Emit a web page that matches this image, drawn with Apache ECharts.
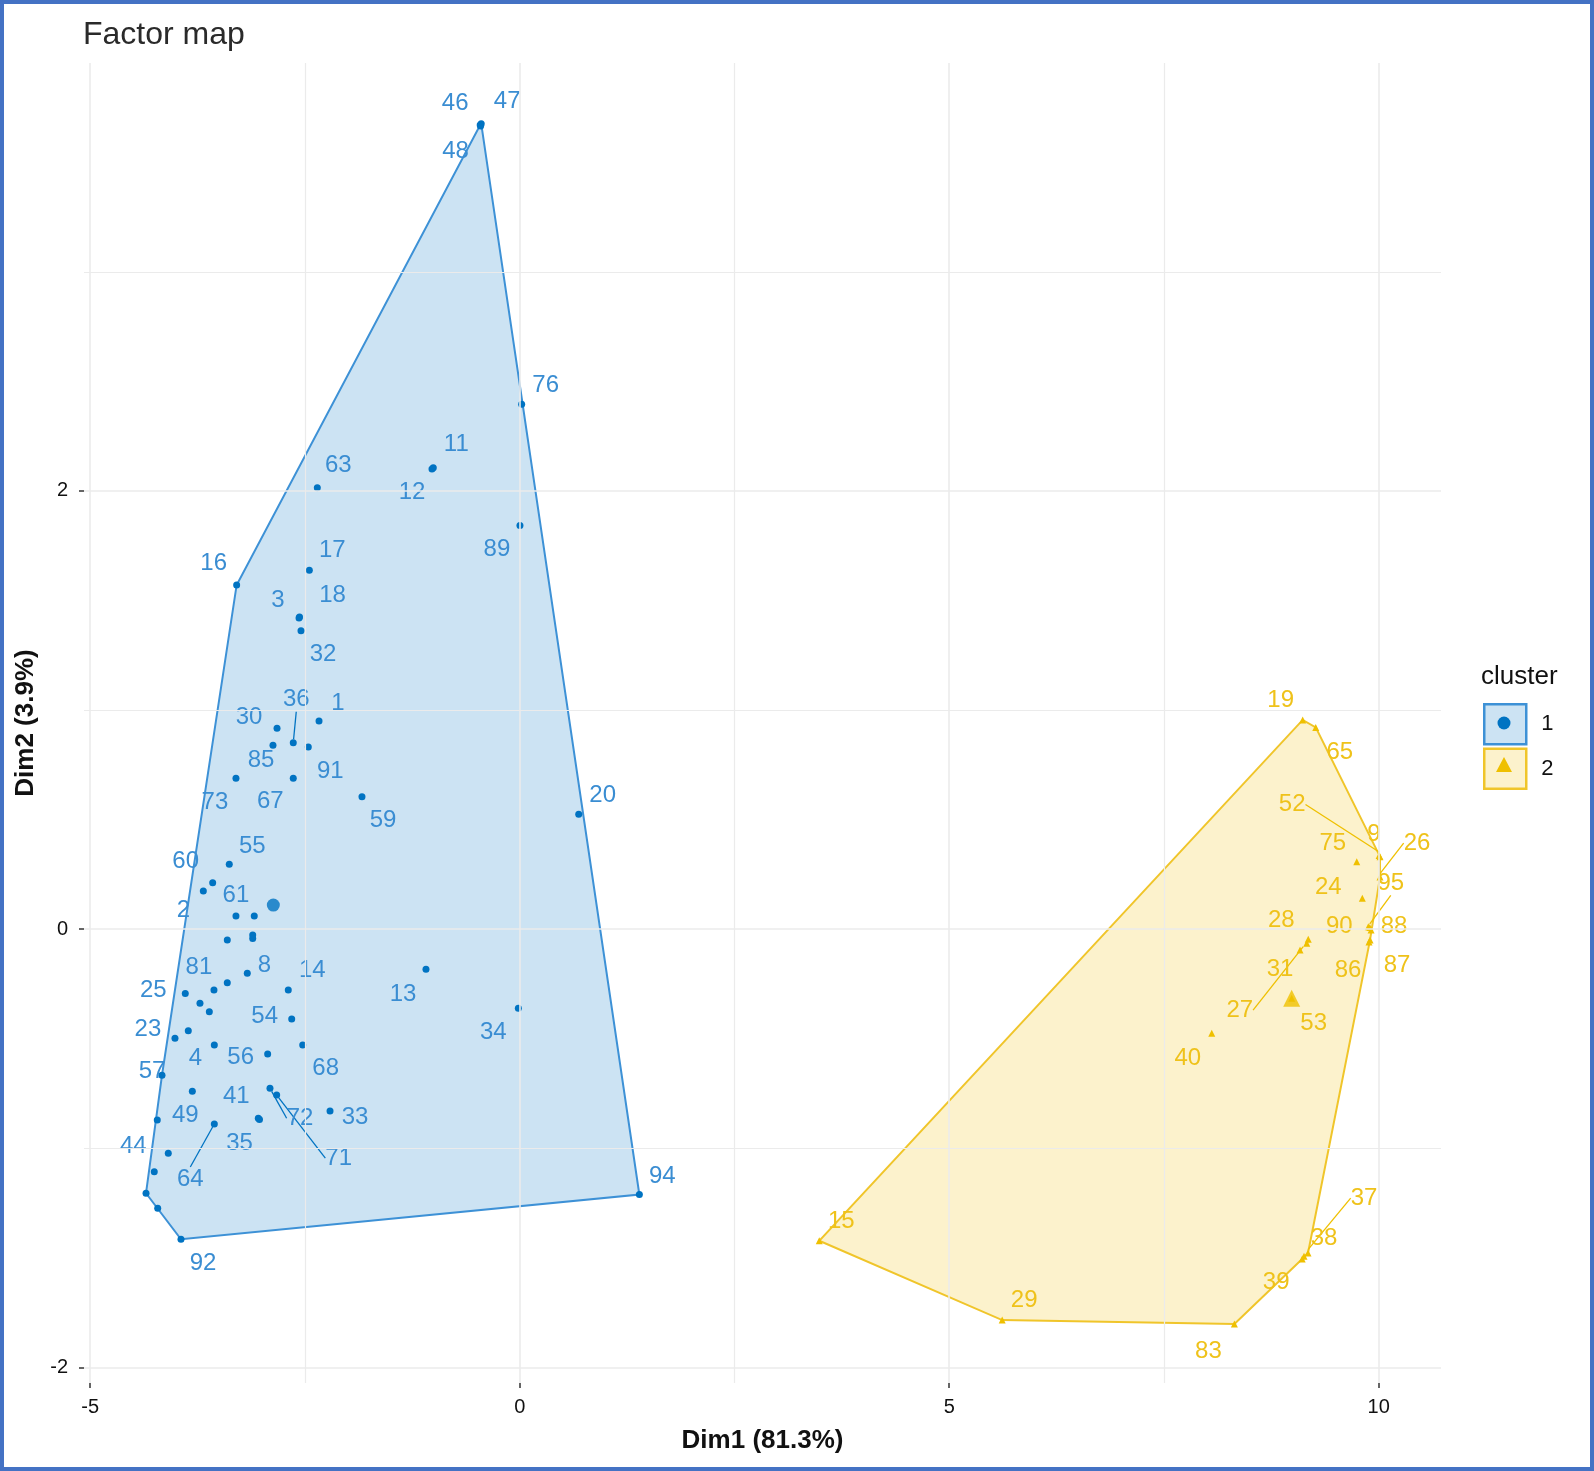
<!DOCTYPE html>
<html><head><meta charset="utf-8">
<script src="https://cdn.jsdelivr.net/npm/echarts@6/dist/echarts.min.js"></script>
<style>html,body{margin:0;padding:0;background:#fff}#chart{width:1594px;height:1471px}</style>
</head><body><div id="chart"></div>
<script>
// ---- data: cluster 1 ----
const ids1 = ["46","47","48","76","11","12","63","89","16","17","3","18","32","1","30","36","85","91","73","67","59","20","55","60","2","61","","","","","8","","81","25","","","14","54","13","34","","23","4","68","56","57","","72","71","33","41","35","64","49","44","","","","92","94"];
const dim1_c1 = [-0.460,-0.448,-0.455,0.023,-1.006,-1.021,-2.356,0.003,-3.295,-2.449,-2.569,-2.563,-2.546,-2.336,-2.825,-2.636,-2.872,-2.461,-3.303,-2.636,-1.836,0.687,-3.381,-3.574,-3.683,-3.303,-3.090,-3.108,-3.108,-3.404,-3.171,-3.404,-3.559,-3.893,-3.722,-3.613,-2.694,-2.654,-1.091,-0.016,-3.858,-4.013,-3.555,-2.526,-2.934,-4.164,-3.811,-2.907,-2.829,-2.208,-3.043,-3.029,-3.555,-4.219,-4.254,-4.091,-4.350,-4.214,-3.943,1.393];
const dim2_c1 = [3.670,3.676,3.666,2.396,2.106,2.100,2.015,1.842,1.571,1.638,1.420,1.425,1.362,0.950,0.917,0.851,0.839,0.832,0.689,0.689,0.605,0.524,0.296,0.212,0.174,0.060,0.060,-0.026,-0.042,-0.049,-0.201,-0.244,-0.277,-0.293,-0.338,-0.377,-0.277,-0.410,-0.183,-0.361,-0.463,-0.498,-0.529,-0.529,-0.570,-0.666,-0.739,-0.726,-0.757,-0.830,-0.863,-0.869,-0.889,-0.871,-1.107,-1.023,-1.205,-1.274,-1.415,-1.211];
// ---- data: cluster 2 ----
const ids2 = ["19","65","9","52","26","75","24","95","90","88","87","86","28","27","31","53","40","15","29","83","39","38","37"];
const dim1_c2 = [9.115,9.267,10.015,10.005,10.015,9.744,9.809,9.896,9.879,9.911,9.899,9.887,9.180,9.162,9.084,8.987,8.056,3.487,5.617,8.320,9.109,9.130,9.177];
const dim2_c2 = [0.955,0.921,0.331,0.336,0.238,0.308,0.141,0.008,0.011,-0.004,-0.049,-0.058,-0.046,-0.064,-0.095,-0.315,-0.475,-1.422,-1.784,-1.802,-1.505,-1.492,-1.478];
// ---- cluster centers ----
const centerDim1 = [-2.868, 8.987];
const centerDim2 = [0.110, -0.315];
// ---- axes ----
const xTicks = [-5, 0, 5, 10];
const xMinor = [-2.5, 2.5, 7.5];
const yTicks = [-2, 0, 2];
const yMinor = [-1, 1, 3];

// ---- label layout (pixel offsets, repel-like) ----
const labelOffsets1 = {"46":[-25,-22],"47":[26,-22],"48":[-25,25],"76":[24,-19],"11":[23,-23],"12":[-20,23],"63":[21,-22],"89":[-23,24],"16":[-23,-22],"17":[23,-20],"3":[-21,-18],"18":[33,-22],"32":[22,24],"1":[19,-18],"30":[-28,-11],"36":[3,-43],"85":[-12,15],"91":[22,24],"73":[-21,24],"67":[-23,23],"59":[21,24],"20":[24,-19],"55":[23,-18],"60":[-27,-21],"2":[-20,19],"61":[0,-21],"8":[17,-8],"81":[-15,-23],"25":[-32,-3],"14":[24,-20],"54":[-27,-3],"13":[-23,25],"34":[-25,24],"23":[-27,-9],"4":[-19,13],"56":[-27,3],"68":[23,23],"57":[-10,-4],"72":[30,30],"71":[62,63],"33":[25,6],"41":[-22,-22],"35":[-20,24],"64":[-24,55],"49":[28,-5],"44":[-21,-25],"92":[22,24],"94":[23,-18]};
const labelOffsets2 = {"19":[-22,-20],"65":[24,25],"9":[-6,-22],"52":[-87,-51],"26":[37,-34],"75":[-24,-18],"24":[-34,-11],"95":[21,-44],"90":[-29,0],"88":[23,-4],"87":[27,25],"86":[-21,28],"28":[-27,-19],"27":[-67,67],"31":[-20,19],"53":[22,25],"40":[-24,25],"15":[22,-19],"29":[22,-20],"83":[-26,27],"39":[-26,23],"38":[20,-18],"37":[56,-55]};
const leaders = new Set(["36","72","71","64","52","26","95","27","37"]);

const FONT = "'Liberation Sans', Arial, sans-serif";
const BLUE = '#0073C2', YEL = '#EFC000';

function convexHull(xs, ys) {
  const pts = xs.map((x, i) => [x, ys[i]]).sort((a, b) => a[0] - b[0] || a[1] - b[1]);
  const cross = (o, a, b) => (a[0]-o[0])*(b[1]-o[1]) - (a[1]-o[1])*(b[0]-o[0]);
  const lower = [], upper = [];
  for (const p of pts) { while (lower.length >= 2 && cross(lower[lower.length-2], lower[lower.length-1], p) <= 0) lower.pop(); lower.push(p); }
  for (let i = pts.length - 1; i >= 0; i--) { const p = pts[i]; while (upper.length >= 2 && cross(upper[upper.length-2], upper[upper.length-1], p) <= 0) upper.pop(); upper.push(p); }
  lower.pop(); upper.pop();
  return lower.concat(upper);
}
const hull1 = convexHull(dim1_c1, dim2_c1);
const hull2 = convexHull(dim1_c2, dim2_c2);

function hullSeries(name, hull, fill, stroke) {
  return {
    type: 'custom', name: name, data: hull, encode: {x: 0, y: 1}, silent: true, z: 1,
    renderItem: function (params, api) {
      if (params.dataIndex !== 0) return null;
      const pts = hull.map(p => api.coord(p));
      return {type: 'polygon', shape: {points: pts}, style: {fill: fill, stroke: stroke, lineWidth: 2}};
    }
  };
}
function pointData(ids, xs, ys) {
  return ids.map((id, i) => ({name: id, value: [xs[i], ys[i]], labelLine: {show: leaders.has(id)}}));
}
function pointSeries(name, ids, xs, ys, symbol, color, labelColor, offsets) {
  return {
    type: 'scatter', name: name, symbol: symbol, symbolSize: 7, z: 3,
    itemStyle: {color: color, opacity: 1},
    data: pointData(ids, xs, ys),
    label: {show: true, position: 'inside', formatter: '{b}', color: labelColor, fontSize: 24, fontFamily: FONT},
    labelLine: {show: false, smooth: false, length2: 0, lineStyle: {color: color, width: 1.3}},
    labelLayout: function (p) { const o = offsets[ids[p.dataIndex]]; return o ? {dx: o[0], dy: o[1]} : {}; },
    emphasis: {disabled: true}
  };
}
const gridLines = [].concat(
  xTicks.map(v => ({xAxis: v})),
  yTicks.map(v => ({yAxis: v})),
  xMinor.map(v => ({xAxis: v, lineStyle: {width: 1.2}})),
  yMinor.map(v => ({yAxis: v, lineStyle: {width: 1.2}}))
);

const chart = echarts.init(document.getElementById('chart'), null, {renderer: 'canvas'});
chart.setOption({
  animation: false,
  backgroundColor: '#ffffff',
  textStyle: {fontFamily: FONT},
  title: [
    {text: 'Factor map', left: 83, top: 19, padding: 0, textStyle: {fontSize: 32, fontWeight: 'normal', color: '#2a2a2a', fontFamily: FONT}},
    {text: 'cluster', left: 1481, top: 664, padding: 0, textStyle: {fontSize: 26, fontWeight: 'normal', color: '#111', fontFamily: FONT}}
  ],
  legend: {
    orient: 'vertical', left: 1483, top: 703, padding: 0, itemWidth: 42, itemHeight: 40, itemGap: 2,
    textStyle: {fontSize: 22, color: '#111', fontFamily: FONT, padding: [0, 0, 0, 10]},
    selectedMode: false,
    data: [
      {name: '1', icon: 'rect', itemStyle: {color: 'rgba(0,115,194,0.2)', borderColor: '#3d91d6', borderWidth: 2.5}},
      {name: '2', icon: 'rect', itemStyle: {color: 'rgba(239,192,0,0.2)', borderColor: '#F0C52A', borderWidth: 2.5}}
    ]
  },
  grid: {left: 84, top: 63, width: 1357, height: 1320, containLabel: false},
  xAxis: {
    type: 'value', min: -5.072, max: 10.725,
    axisLine: {show: false, onZero: false},
    axisTick: {show: true, customValues: xTicks, length: 5, lineStyle: {color: '#333', width: 1.5}},
    axisLabel: {customValues: xTicks, margin: 14, fontSize: 20, color: '#111', fontFamily: FONT},
    splitLine: {show: false},
    name: 'Dim1 (81.3%)', nameLocation: 'middle', nameGap: 45,
    nameTextStyle: {fontSize: 26, fontWeight: 'bold', color: '#111', fontFamily: FONT}
  },
  yAxis: {
    type: 'value', min: -2.071, max: 3.953,
    axisLine: {show: false, onZero: false},
    axisTick: {show: true, customValues: yTicks, length: 5, lineStyle: {color: '#333', width: 1.5}},
    axisLabel: {customValues: yTicks, margin: 16, fontSize: 20, color: '#111', fontFamily: FONT},
    splitLine: {show: false},
    name: 'Dim2 (3.9%)', nameLocation: 'middle', nameGap: 34,
    nameTextStyle: {fontSize: 26, fontWeight: 'bold', color: '#111', fontFamily: FONT}
  },
  series: [
    {type: 'scatter', name: 'gridlines', data: [], silent: true, z: 0,
     markLine: {silent: true, symbol: ['none', 'none'], label: {show: false}, animation: false,
                lineStyle: {color: '#ebebeb', width: 1.6, type: 'solid'}, emphasis: {disabled: true}, data: gridLines}},
    hullSeries('1', hull1, 'rgba(0,115,194,0.2)', '#3d91d6'),
    hullSeries('2', hull2, 'rgba(239,192,0,0.2)', '#F0C52A'),
    pointSeries('1', ids1, dim1_c1, dim2_c1, 'circle', BLUE, '#3a8dd2', labelOffsets1),
    pointSeries('2', ids2, dim1_c2, dim2_c2, 'triangle', YEL, '#EFC21A', labelOffsets2),
    {type: 'scatter', name: 'center1', symbol: 'circle', symbolSize: 13, z: 4, itemStyle: {color: BLUE},
     data: [[centerDim1[0], centerDim2[0]]], silent: true},
    {type: 'scatter', name: 'center2', symbol: 'triangle', symbolSize: 17, z: 4, itemStyle: {color: YEL},
     data: [[centerDim1[1], centerDim2[1]]], silent: true}
  ],
  graphic: [
    {type: 'circle', shape: {cx: 1504, cy: 723, r: 6.5}, style: {fill: BLUE}, z: 100},
    {type: 'polygon', shape: {points: [[1504, 757], [1512, 772], [1496, 772]]}, style: {fill: YEL}, z: 100},
    {type: 'rect', shape: {x: 2, y: 2, width: 1590, height: 1467}, style: {fill: 'none', stroke: '#4472C4', lineWidth: 4}, z: 100}
  ]
});
</script></body></html>
